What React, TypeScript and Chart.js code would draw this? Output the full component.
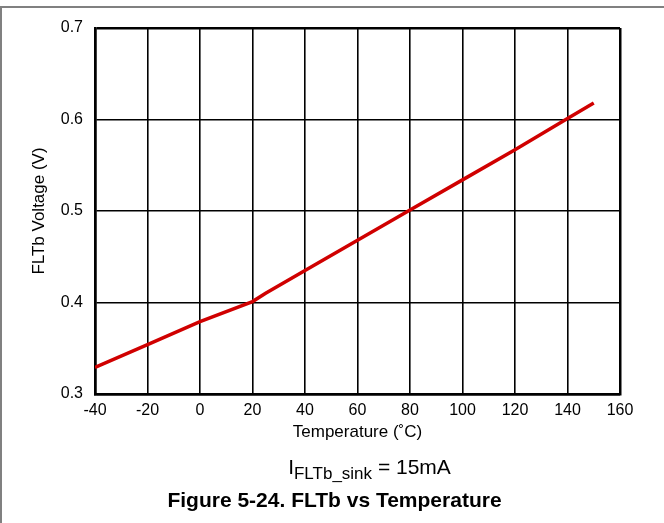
import React, { useEffect, useRef } from "react";
import { Chart, registerables } from "chart.js";

Chart.register(...registerables);

// ---- data ----
const temperatures = [-40, -20, 0, 20, 25, 40, 60, 80, 100, 120, 140, 150];
const voltages = [0.329, 0.354, 0.379, 0.401, 0.41, 0.435, 0.468, 0.501, 0.534, 0.567, 0.601, 0.618];
const xTicks = [-40, -20, 0, 20, 40, 60, 80, 100, 120, 140, 160];
const yTicks = [0.3, 0.4, 0.5, 0.6, 0.7];
const xTitle = "Temperature (\u02DAC)";
const yTitle = "FLTb Voltage (V)";
const noteMain = "I";
const noteSub = "FLTb_sink";
const noteTail = " = 15mA";
const figureTitle = "Figure 5-24. FLTb vs Temperature";

const FONT = '"Liberation Sans", Arial, sans-serif';
const W = 664;
const H = 523;

const framePlugin = {
  id: "frameAndNotes",
  afterDraw(chart: any) {
    const ctx = chart.ctx as CanvasRenderingContext2D;
    const area = chart.chartArea;
    ctx.save();
    // outer figure frame (top + left)
    ctx.strokeStyle = "#808080";
    ctx.lineWidth = 2;
    ctx.beginPath();
    ctx.moveTo(0, 7);
    ctx.lineTo(W, 7);
    ctx.moveTo(1, 6);
    ctx.lineTo(1, H);
    ctx.stroke();

    // condition note with subscript
    ctx.fillStyle = "#000";
    ctx.textBaseline = "alphabetic";
    ctx.textAlign = "left";
    const mainFont = `21px ${FONT}`;
    const subFont = `17px ${FONT}`;
    ctx.font = mainFont;
    const wMain = ctx.measureText(noteMain).width;
    const wTail = ctx.measureText(noteTail).width;
    ctx.font = subFont;
    const wSub = ctx.measureText(noteSub).width;
    const total = wMain + wSub + wTail;
    const cx = (area.left + area.right) / 2 + 12;
    let x = cx - total / 2;
    const baseY = 474;
    ctx.font = mainFont;
    ctx.fillText(noteMain, x, baseY);
    x += wMain;
    ctx.font = subFont;
    ctx.fillText(noteSub, x, baseY + 5);
    x += wSub;
    ctx.font = mainFont;
    ctx.fillText(noteTail, x, baseY);

    // figure caption
    ctx.font = `bold 21px ${FONT}`;
    ctx.textAlign = "center";
    ctx.fillText(figureTitle, (area.left + area.right) / 2 - 23, 507);
    ctx.restore();
  },
};

export default function App() {
  const ref = useRef<HTMLCanvasElement | null>(null);

  useEffect(() => {
    if (!ref.current) return;
    const points = temperatures.map((t, i) => ({ x: t, y: voltages[i] }));
    const edgeWidth = (ctx: any) =>
      ctx.index === 0 || ctx.index === (ctx.scale?.ticks?.length ?? 0) - 1 ? 2.5 : 1.6;

    const chart = new Chart(ref.current, {
      type: "line",
      data: {
        datasets: [
          {
            data: points,
            borderColor: "#d00000",
            borderWidth: 3.5,
            pointRadius: 0,
            tension: 0,
            fill: false,
          },
        ],
      },
      options: {
        animation: false,
        responsive: false,
        devicePixelRatio: 1,
        layout: { padding: { top: 28, right: 44, bottom: 0, left: 0 } },
        plugins: {
          legend: { display: false },
          tooltip: { enabled: false },
        },
        scales: {
          x: {
            type: "linear",
            min: xTicks[0],
            max: xTicks[xTicks.length - 1],
            afterBuildTicks: (s: any) => {
              s.ticks = xTicks.map((v) => ({ value: v }));
            },
            afterFit: (s: any) => {
              s.height = 129;
            },
            grid: { color: "#000", lineWidth: edgeWidth, drawTicks: false },
            border: { display: true, color: "#000", width: 2.5 },
            ticks: {
              color: "#000",
              padding: 7,
              font: { family: FONT, size: 16 },
              maxRotation: 0,
              autoSkip: false,
            },
            title: {
              display: true,
              text: xTitle,
              color: "#000",
              font: { family: FONT, size: 17 },
              padding: { top: 0, bottom: 80 },
            },
          },
          y: {
            type: "linear",
            min: yTicks[0],
            max: yTicks[yTicks.length - 1],
            afterBuildTicks: (s: any) => {
              s.ticks = yTicks.map((v) => ({ value: v }));
            },
            afterFit: (s: any) => {
              s.width = 95;
            },
            grid: { color: "#000", lineWidth: edgeWidth, drawTicks: false },
            border: { display: true, color: "#000", width: 2.5 },
            ticks: {
              color: "#000",
              padding: 12,
              font: { family: FONT, size: 16 },
              autoSkip: false,
              callback: (v: any) => Number(v).toFixed(1),
            },
            title: {
              display: true,
              text: yTitle,
              color: "#000",
              font: { family: FONT, size: 17 },
              padding: { top: 29, bottom: 0 },
            },
          },
        },
      },
      plugins: [framePlugin],
    });
    return () => chart.destroy();
  }, []);

  return (
    <div style={{ position: "absolute", left: 0, top: 0, width: W, height: H, background: "#fff" }}>
      <canvas ref={ref} width={W} height={H} style={{ width: W, height: H, display: "block" }} />
    </div>
  );
}
